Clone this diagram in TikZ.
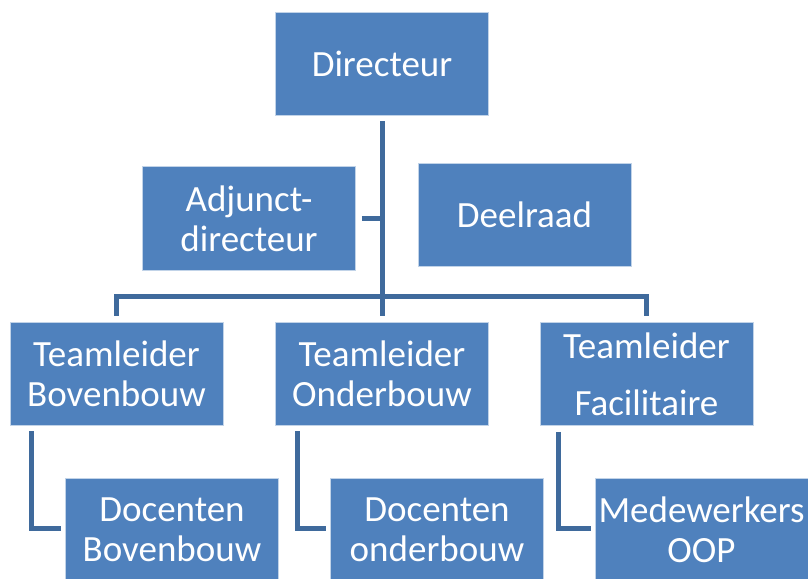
\documentclass[tikz,border=0pt]{standalone}
\usepackage{fontspec}
\setmainfont{Carlito}
\usepackage{tikz}
\usetikzlibrary{positioning}
\definecolor{boxblue}{HTML}{4F81BD}
\definecolor{lineblue}{HTML}{3F6A9C}
\tikzset{
  orgbox/.style={rectangle, fill=boxblue, draw=white!65!boxblue, line width=0.8pt,
    text=white, align=center, inner sep=0pt, minimum width=213pt, minimum height=103pt,
    font=\fontsize{37}{40}\selectfont},
  conn/.style={lineblue, line width=5pt}
}
\begin{document}
\begin{tikzpicture}[x=1pt, y=-1pt]

			\useasboundingbox (0,0) rectangle (808,578);

			\node[orgbox] (dir) at (382,63.5) {Directeur};
			\node[orgbox, minimum height=104pt] (adj) at (249,218.5) {Adjunct-\\directeur};
			\node[orgbox] (raad) at (524.5,214.5) {Deelraad};
			\node[orgbox] (tlb) at (116.5,373.5) {Teamleider\\Bovenbouw};
			\node[orgbox] (tlo) at (382,373.5) {Teamleider\\Onderbouw};
			\node[orgbox] (tlf) at (646.5,374) {Teamleider\\[17pt]Facilitaire};
			\node[orgbox] (dob) at (172,529.5) {Docenten\\Bovenbouw};
			\node[orgbox] (doo) at (437,529.5) {Docenten\\onderbouw};
			\node[orgbox] (mwo) at (701.5,529.5) {Medewerkers\\OOP};
			\coordinate (bar) at (382,296);

			\draw[conn] ([yshift=-6pt]dir.south) -- ([yshift=6pt]tlo.north);
			\draw[conn] ([yshift=6pt]tlb.north) |- (bar) -| ([yshift=6pt]tlf.north);
			\draw[conn] ([xshift=6pt]adj.east) -- (adj.east -| dir.south);
			\draw[conn] ([xshift=22pt,yshift=-6pt]tlb.south west) |- ([xshift=-4pt,yshift=1.5pt]dob.west);
			\draw[conn] ([xshift=22pt,yshift=-6pt]tlo.south west) |- ([xshift=-4pt,yshift=1.5pt]doo.west);
			\draw[conn] ([xshift=19pt,yshift=-6pt]tlf.south west) |- ([xshift=-4pt,yshift=1.5pt]mwo.west);

\end{tikzpicture}
\end{document}
